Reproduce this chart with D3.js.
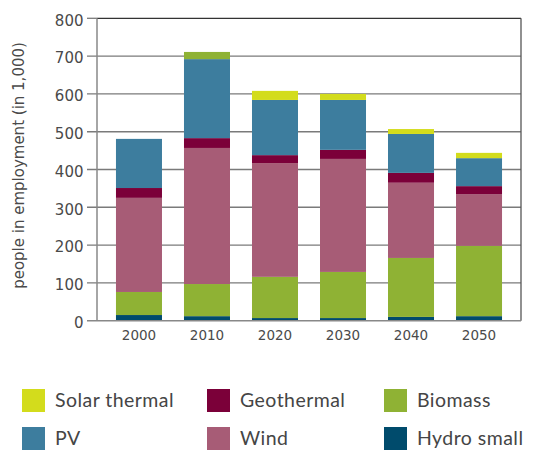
<!DOCTYPE html>
<html>
<head>
<meta charset="utf-8">
<script src="https://cdn.jsdelivr.net/npm/d3@7"></script>
<style>
  html, body { margin: 0; padding: 0; background: #fff; }
  svg { display: block; }
</style>
</head>
<body>
<svg id="chart" width="533" height="451"></svg>
<script>
// Employment in renewable energy, people in 1,000, by year
const years = ["2000", "2010", "2020", "2030", "2040", "2050"];

const hydroSmall   = [15, 12, 7, 7, 10, 12];
const biomass      = [61, 85, 109, 122, 156, 186];
const wind         = [249, 360, 301, 299, 199, 137];
const geothermal   = [26, 26, 21, 24, 26, 21];
const pv           = [130, 209, 146, 132, 103, 74];
const solarThermal = [0, 19, 24, 16, 13, 14];

const yTicks = [0, 100, 200, 300, 400, 500, 600, 700, 800];

// stacking order, bottom to top
const seriesNames  = ["Hydro small", "Biomass", "Wind", "Geothermal", "PV", "Solar thermal"];
const seriesValues = [hydroSmall, biomass, wind, geothermal, pv, solarThermal];
const seriesColors = ["#004b6c", "#8fb234", "#a75c76", "#7b0039", "#3d7d9e", "#d3dc1c"];

// the 2010 solar thermal segment is printed in the biomass green
const cellColorOverride = { "Solar thermal|2010": "#8fb234" };

// legend layout: rows of series names
const legendRows = [["Solar thermal", "Geothermal", "Biomass"], ["PV", "Wind", "Hydro small"]];

const svg = d3.select("#chart");
const plot = { left: 97, right: 521, top: 18.3, bottom: 320.7 };

const rows = years.map((yr, i) => {
  const r = { year: yr };
  seriesNames.forEach((s, k) => { r[s] = seriesValues[k][i]; });
  return r;
});

const x = d3.scaleBand().domain(years).range([plot.left, plot.right])
  .paddingInner(0.3235).paddingOuter(0.279);
const y = d3.scaleLinear().domain([0, 800]).range([plot.bottom, plot.top]);
const color = d3.scaleOrdinal().domain(seriesNames).range(seriesColors);

// horizontal gridlines (with short ticks left of the axis)
svg.append("g").selectAll("line").data(yTicks.filter(t => t > 0 && t < 800)).join("line")
  .attr("x1", plot.left - 10).attr("x2", plot.right)
  .attr("y1", d => y(d)).attr("y2", d => y(d))
  .attr("stroke", "#7a7a7a").attr("stroke-width", 1.4);

// stacked bars
const stacked = d3.stack().keys(seriesNames)(rows);
svg.append("g").selectAll("g").data(stacked).join("g")
  .each(function(layer) {
    d3.select(this).selectAll("rect").data(layer).join("rect")
      .attr("x", d => x(d.data.year))
      .attr("width", x.bandwidth())
      .attr("y", d => y(d[1]))
      .attr("height", d => Math.max(0, y(d[0]) - y(d[1])))
      .attr("fill", d => cellColorOverride[layer.key + "|" + d.data.year] || color(layer.key));
  });

// frame: top and right in dark, left and bottom axis in grey
svg.append("line").attr("x1", plot.left).attr("x2", plot.right)
  .attr("y1", y(800)).attr("y2", y(800)).attr("stroke", "#333").attr("stroke-width", 1.3);
svg.append("line").attr("x1", plot.left - 10).attr("x2", plot.left)
  .attr("y1", y(800)).attr("y2", y(800)).attr("stroke", "#7a7a7a").attr("stroke-width", 1.3);
svg.append("line").attr("x1", plot.right).attr("x2", plot.right)
  .attr("y1", y(800)).attr("y2", plot.bottom).attr("stroke", "#555").attr("stroke-width", 1.3);
svg.append("line").attr("x1", plot.left).attr("x2", plot.left)
  .attr("y1", y(800)).attr("y2", plot.bottom).attr("stroke", "#888").attr("stroke-width", 1.5);
svg.append("line").attr("x1", plot.left - 10).attr("x2", plot.right)
  .attr("y1", plot.bottom).attr("y2", plot.bottom).attr("stroke", "#888").attr("stroke-width", 1.5);

// y axis labels
const yAxis = d3.axisLeft(y).tickValues(yTicks).tickSize(0).tickPadding(13.5);
const gy = svg.append("g").attr("transform", `translate(${plot.left},0)`).call(yAxis);
gy.select(".domain").remove();
gy.selectAll("text").attr("font-family", "DejaVu Sans").attr("font-size", 15)
  .attr("dy", "0.45em").attr("fill", "#4a4a4a");

// x axis labels
const xAxis = d3.axisBottom(x).tickSize(0).tickPadding(10);
const gx = svg.append("g").attr("transform", `translate(0,${plot.bottom})`).call(xAxis);
gx.select(".domain").remove();
gx.selectAll("text").attr("font-family", "DejaVu Sans").attr("font-size", 13.5)
  .attr("fill", "#4a4a4a");

// y axis title
svg.append("text")
  .attr("transform", "translate(24,165.5) rotate(-90)")
  .attr("text-anchor", "middle")
  .attr("font-family", "DejaVu Sans").attr("font-size", 15).attr("fill", "#4a4a4a")
  .text("people in employment (in 1,000)");

// legend
const colX = [22, 207, 384];
const rowY = [389, 427];
legendRows.forEach((row, ri) => {
  row.forEach((name, ci) => {
    const g = svg.append("g").attr("transform", `translate(${colX[ci]},${rowY[ri]})`);
    g.append("rect").attr("width", 23).attr("height", 23).attr("fill", color(name));
    g.append("text").attr("x", 33).attr("y", 18)
      .attr("font-family", "Lato").attr("font-size", 19.5).attr("letter-spacing", 0.45)
      .attr("fill", "#454545")
      .text(name);
  });
});
</script>
</body>
</html>
